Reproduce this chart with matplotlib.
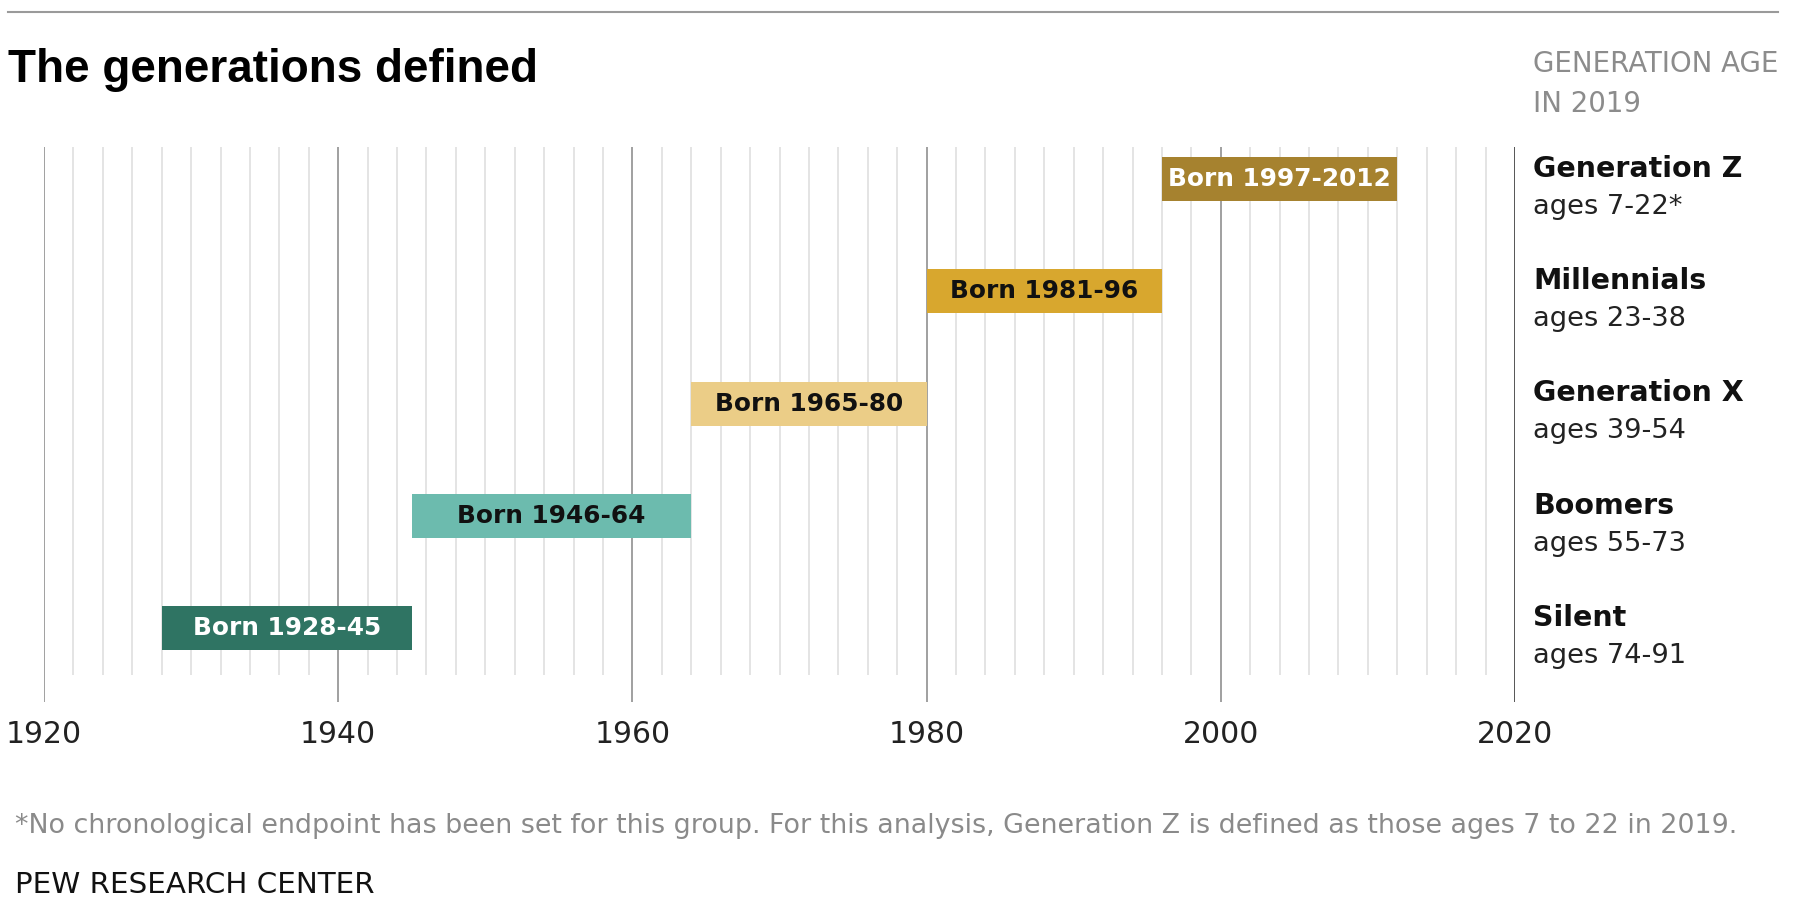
import numpy as np
import matplotlib
matplotlib.use("Agg")
import matplotlib.pyplot as plt
from matplotlib.transforms import blended_transform_factory

# data
gen_names = ["Generation Z", "Millennials", "Generation X", "Boomers", "Silent"]
age_labels = ["ages 7-22*", "ages 23-38", "ages 39-54", "ages 55-73", "ages 74-91"]
born_labels = ["Born 1997-2012", "Born 1981-96", "Born 1965-80", "Born 1946-64", "Born 1928-45"]
bar_start = [1996, 1980, 1964, 1945, 1928]
bar_end = [2012, 1996, 1980, 1964, 1945]
bar_colors = ["#a6822f", "#d8a72e", "#ebcd87", "#6cbbae", "#2f7463"]
text_colors = ["white", "#111111", "#111111", "#111111", "white"]
major_years = [1920, 1940, 1960, 1980, 2000, 2020]
minor_years = [y for y in range(1922, 2020, 2) if y % 20 != 0]

W, H = 1800, 908
fig = plt.figure(figsize=(W / 100, H / 100), dpi=100)
fig.patch.set_facecolor("white")

ax = fig.add_axes([44 / W, 1 - 702 / H, (1515 - 44) / W, (702 - 147) / H])
rows = np.arange(len(gen_names))
y_top, y_bot = -0.285, 4.657
ax.set_xlim(1920, 2020)
ax.set_ylim(y_bot, y_top)

# grid lines
ax.vlines(minor_years, y_top, 4.417, color="#e4e4e4", lw=1.4, zorder=0)
ax.vlines(major_years[:-1], y_top, y_bot, color="#a0a0a0", lw=1.4, zorder=0)
ax.vlines(major_years[-1:], y_top, y_bot, color="#555555", lw=1.4, zorder=0)

widths = np.array(bar_end) - np.array(bar_start)
ax.barh(rows, widths, left=bar_start, height=0.39, color=bar_colors, zorder=2)
for i in rows:
    mid = (bar_start[i] + bar_end[i]) / 2
    ax.text(mid, i, born_labels[i], ha="center", va="center", fontsize=17.8,
            fontweight="bold", color=text_colors[i], zorder=3)

for s in ax.spines.values():
    s.set_visible(False)
ax.set_yticks([])
ax.set_xticks(major_years)
ax.set_xticklabels([str(y) for y in major_years], fontsize=21.5, color="#222222")
ax.tick_params(axis="x", length=0, pad=13)

# labels at right
tr = blended_transform_factory(fig.transFigure, ax.transData)
for i in rows:
    ax.text(1533 / W, i - 0.02, gen_names[i], transform=tr, fontsize=20.5,
            fontweight="bold", color="#111111", va="baseline", ha="left")
    ax.text(1533 / W, i + 0.31, age_labels[i], transform=tr, fontsize=19.6,
            color="#222222", va="baseline", ha="left")

fig.text(1533 / W, 1 - 72 / H, "GENERATION AGE", fontsize=19.9, color="#8c8c8c",
         va="baseline", ha="left")
fig.text(1533 / W, 1 - 112 / H, "IN 2019", fontsize=19.9, color="#8c8c8c",
         va="baseline", ha="left")

# title, rule, notes
fig.add_artist(plt.Line2D([8 / W, 1778 / W], [1 - 12 / H, 1 - 12 / H], color="#9a9a9a", lw=1.5))
fig.text(8 / W, 1 - 82 / H, "The generations defined", fontsize=33, fontweight="bold",
         family=["Liberation Sans", "DejaVu Sans"], color="black", va="baseline", ha="left")
fig.text(15 / W, 1 - 833 / H,
         "*No chronological endpoint has been set for this group. For this analysis, "
         "Generation Z is defined as those ages 7 to 22 in 2019.",
         fontsize=19.4, color="#8a8a8a", va="baseline", ha="left")
fig.text(15 / W, 1 - 893 / H, "PEW RESEARCH CENTER", fontsize=21.2, color="#111111",
         va="baseline", ha="left")

fig.savefig("out.png", dpi=100, facecolor="white")
